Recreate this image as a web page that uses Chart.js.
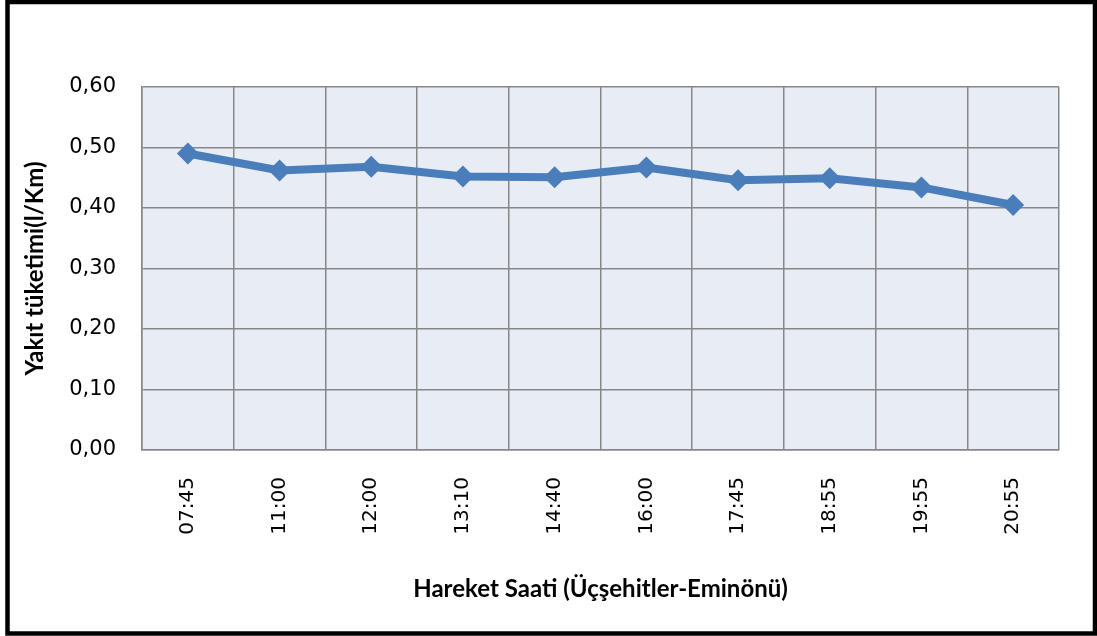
<!DOCTYPE html>
<html>
<head>
<meta charset="utf-8">
<script src="https://cdn.jsdelivr.net/npm/chart.js@4/dist/chart.umd.min.js"></script>
<style>
  html, body { margin: 0; padding: 0; background: #fff; }
  #wrap { width: 1097px; height: 636px; }
</style>
</head>
<body>
<div id="wrap"><canvas id="fuelChart" width="1097" height="636"></canvas></div>
<script>
'use strict';

// Hareket saatleri ve yakıt tüketimi (l/km)
var saatler = ['07:45', '11:00', '12:00', '13:10', '14:40', '16:00', '17:45', '18:55', '19:55', '20:55'];
var tuketim = [0.490, 0.462, 0.468, 0.452, 0.451, 0.467, 0.446, 0.449, 0.434, 0.405];
var yTicks = [0, 0.1, 0.2, 0.3, 0.4, 0.5, 0.6];

var mavi = '#4A7EBB';
var izgara = '#878787';

// Çizim alanı zemini ve dış çerçeve
var zeminPlugin = {
    id: 'zemin',
    beforeDraw: function (chart) {
        var c = chart.ctx, a = chart.chartArea;
        c.save();
        c.fillStyle = '#fff';
        c.fillRect(0, 0, chart.width, chart.height);
        c.fillStyle = '#E8ECF4';
        c.fillRect(a.left, a.top, a.right - a.left, a.bottom - a.top);
        c.restore();
    },
    afterDraw: function (chart) {
        var c = chart.ctx;
        c.save();
        c.strokeStyle = '#000';
        c.lineWidth = 4.5;
        c.strokeRect(7.5, 2, chart.width - 9.5, chart.height - 4.5);
        c.restore();
    }
};

var ctx = document.getElementById('fuelChart').getContext('2d');

new Chart(ctx, {
    type: 'line',
    data: {
        labels: saatler,
        datasets: [{
            data: tuketim,
            borderColor: mavi,
            backgroundColor: mavi,
            borderWidth: 8,
            pointStyle: 'rectRot',
            pointRadius: 11,
            pointBorderWidth: 0,
            pointBackgroundColor: mavi,
            tension: 0,
            fill: false
        }]
    },
    plugins: [zeminPlugin],
    options: {
        responsive: false,
        animation: false,
        devicePixelRatio: 1,
        layout: { padding: { left: 0, top: 87, right: 38, bottom: 0 } },
        plugins: {
            legend: { display: false },
            tooltip: { enabled: false }
        },
        scales: {
            x: {
                offset: true,
                grid: { offset: true, color: izgara, lineWidth: 1.5, drawTicks: false },
                border: { color: izgara, width: 1.5 },
                ticks: {
                    color: '#000',
                    font: { family: 'DejaVu Sans', size: 20 },
                    minRotation: 90,
                    maxRotation: 90,
                    padding: 27
                },
                title: {
                    display: true,
                    text: 'Hareket Saati (Üçşehitler-Eminönü)',
                    color: '#000',
                    font: { family: 'Lato', weight: 'bold', size: 24 },
                    padding: { top: 0, bottom: 32 }
                },
                afterFit: function (scale) { scale.height = 186; }
            },
            y: {
                min: 0,
                max: 0.6,
                afterBuildTicks: function (scale) {
                    scale.ticks = yTicks.map(function (v) { return { value: v }; });
                },
                grid: { color: izgara, lineWidth: 1.5, drawTicks: false },
                border: { color: izgara, width: 1.5 },
                ticks: {
                    color: '#000',
                    font: { family: 'DejaVu Sans', size: 21 },
                    padding: 26,
                    callback: function (v) { return v.toFixed(2).replace('.', ','); }
                },
                title: {
                    display: true,
                    text: 'Yakıt tüketimi(l/Km)',
                    color: '#000',
                    font: { family: 'Lato', weight: 'bold', size: 24 },
                    padding: { top: 21, bottom: 0 }
                },
                afterFit: function (scale) { scale.width = 142; }
            }
        }
    }
});
</script>
</body>
</html>
